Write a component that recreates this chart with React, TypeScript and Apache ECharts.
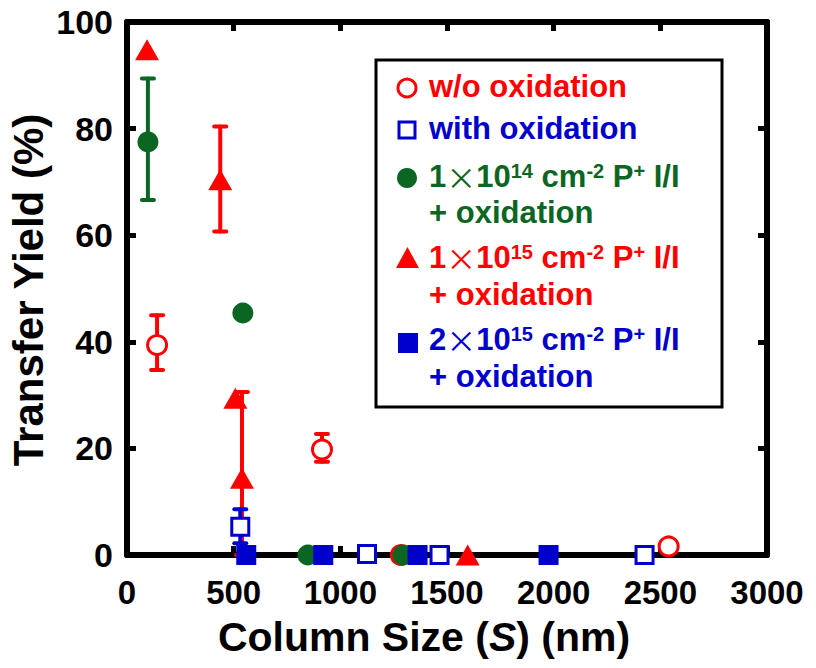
import React, { useEffect, useRef } from "react";
import * as echarts from "echarts";

const RED = "#ff0000";
const BLUE = "#0000cc";
const GREEN = "#0b6623";
const FONT = "'Liberation Sans', Arial, Helvetica, sans-serif";

// [column size (nm), transfer yield (%)]
const woOxidation: number[][] = [[141, 39.4], [914, 19.8], [1284, 0], [2539, 1.6]];
const woOxidationErr: number[][] = [[141, 34.7, 45.0], [914, 17.5, 22.7]];
const withOxidation: number[][] = [[531, 5.3], [1125, 0.2], [1465, 0], [2426, 0]];
const withOxidationErr: number[][] = [[531, 2.2, 8.6]];
const p1e14: number[][] = [[98, 77.5], [543, 45.4], [848, 0], [1294, 0]];
const p1e14Err: number[][] = [[98, 66.6, 89.4]];
const p1e15: number[][] = [[94, 94.8], [437, 70.4], [508, 29.4], [539, 14.4], [1597, 0]];
const p1e15Err: number[][] = [[437, 60.7, 80.4], [539, 0, 30.6]];
const p2e15: number[][] = [[559, 0], [920, 0], [1362, 0], [1976, 0]];

const xMin = 0, xMax = 3000, xStep = 500;
const yMin = 0, yMax = 100, yStep = 20;

function errSeries(data: number[][], color: string) {
  return {
    type: "custom",
    data,
    clip: false,
    silent: true,
    encode: { x: 0, y: [1, 2] },
    renderItem: (params: any, api: any) => {
      const x = api.value(0);
      const lo = api.value(1);
      const hi = api.value(2);
      const pLo = api.coord([x, lo]);
      const pHi = api.coord([x, hi]);
      const cw = 6;
      const style = { stroke: color, lineWidth: 4, lineCap: "round" };
      return {
        type: "group",
        children: [
          { type: "line", shape: { x1: pLo[0], y1: pLo[1], x2: pHi[0], y2: pHi[1] }, style },
          { type: "line", shape: { x1: pHi[0] - cw, y1: pHi[1], x2: pHi[0] + cw, y2: pHi[1] }, style },
          { type: "line", shape: { x1: pLo[0] - cw, y1: pLo[1], x2: pLo[0] + cw, y2: pLo[1] }, style },
        ],
      };
    },
  };
}

function scatter(name: string, data: number[][], symbol: string, size: any, itemStyle: any) {
  return {
    name,
    type: "scatter",
    data,
    symbol,
    symbolSize: size,
    clip: false,
    silent: true,
    itemStyle: { opacity: 1, ...itemStyle },
  };
}

function legendText(x: number, y: number, text: string, color: string) {
  return {
    type: "text",
    x,
    y,
    style: {
      text,
      fill: color,
      fontSize: 31,
      lineHeight: 30,
      fontWeight: "bold",
      fontFamily: FONT,
      align: "left",
      verticalAlign: "middle",
      rich: {
        x: { fontSize: 30, fontWeight: "normal", fontFamily: "'Noto Sans CJK JP', sans-serif", fill: color, lineHeight: 30 },
        sup: { fontSize: 20, fontWeight: "bold", fontFamily: FONT, fill: color, verticalAlign: "top", lineHeight: 30 },
      },
    },
  };
}

export default function App() {
  const ref = useRef<HTMLDivElement>(null);
  useEffect(() => {
    if (!ref.current) return;
    const chart = echarts.init(ref.current, null, { renderer: "svg" });
    const axisLine = { show: true, onZero: false, lineStyle: { color: "#000", width: 6 } };
    const axisTick = { show: true, inside: true, length: 9, lineStyle: { color: "#000", width: 5 } };
    const labelStyle = { color: "#000", fontSize: 33, fontWeight: "bold", fontFamily: FONT };
    chart.setOption({
      animation: false,
      backgroundColor: "#fff",
      grid: { left: 127, right: 49, top: 22, bottom: 113, containLabel: false },
      xAxis: [
        {
          type: "value", min: xMin, max: xMax, interval: xStep, position: "bottom",
          axisLine, axisTick, splitLine: { show: false },
          axisLabel: { ...labelStyle, lineHeight: 26, margin: 24, formatter: (v: number) => String(v) },
        },
        {
          type: "value", min: xMin, max: xMax, interval: xStep, position: "top",
          axisLine, axisTick, splitLine: { show: false }, axisLabel: { show: false },
        },
      ],
      yAxis: [
        {
          type: "value", min: yMin, max: yMax, interval: yStep, position: "left",
          axisLine, axisTick, splitLine: { show: false },
          axisLabel: { ...labelStyle, fontSize: 34, margin: 14, formatter: (v: number) => String(v) },
        },
        {
          type: "value", min: yMin, max: yMax, interval: yStep, position: "right",
          axisLine, axisTick, splitLine: { show: false }, axisLabel: { show: false },
        },
      ],
      series: [
        errSeries(woOxidationErr, RED),
        scatter("w/o oxidation", woOxidation, "circle", 19, { color: "#fff", borderColor: RED, borderWidth: 3 }),
        errSeries(p1e15Err, RED),
        scatter("1×10^15 cm^-2 P+ I/I + oxidation", p1e15, "triangle", [24, 21], { color: RED }),
        errSeries(p1e14Err, GREEN),
        scatter("1×10^14 cm^-2 P+ I/I + oxidation", p1e14, "circle", 21, { color: GREEN }),
        errSeries(withOxidationErr, BLUE),
        scatter("with oxidation", withOxidation, "rect", 17, { color: "#fff", borderColor: BLUE, borderWidth: 3 }),
        scatter("2×10^15 cm^-2 P+ I/I + oxidation", p2e15, "rect", 20, { color: BLUE }),
      ],
      graphic: [
        {
          type: "rect", shape: { x: 376, y: 60, width: 346, height: 347 },
          style: { fill: "#fff", stroke: "#000", lineWidth: 3 }, z: 10,
        },
        { type: "circle", shape: { cx: 407, cy: 88, r: 9 }, style: { fill: "#fff", stroke: RED, lineWidth: 3 }, z: 11 },
        { type: "rect", shape: { x: 399, y: 122, width: 16, height: 16 }, style: { fill: "#fff", stroke: BLUE, lineWidth: 3 }, z: 11 },
        { type: "circle", shape: { cx: 407, cy: 178, r: 10 }, style: { fill: GREEN }, z: 11 },
        { type: "polygon", shape: { points: [[396, 268], [419, 268], [407.5, 247]] }, style: { fill: RED }, z: 11 },
        { type: "rect", shape: { x: 398, y: 333, width: 20, height: 20 }, style: { fill: BLUE }, z: 11 },
        { ...legendText(429, 86, "w/o oxidation", RED), z: 11 },
        { ...legendText(429, 128, "with oxidation", BLUE), z: 11 },
        { ...legendText(429, 176, "1{x|×}10{sup|14} cm{sup|-2} P{sup|+} I/I", GREEN), z: 11 },
        { ...legendText(429, 212, "+ oxidation", GREEN), z: 11 },
        { ...legendText(429, 257, "1{x|×}10{sup|15} cm{sup|-2} P{sup|+} I/I", RED), z: 11 },
        { ...legendText(429, 294, "+ oxidation", RED), z: 11 },
        { ...legendText(429, 339, "2{x|×}10{sup|15} cm{sup|-2} P{sup|+} I/I", BLUE), z: 11 },
        { ...legendText(429, 376, "+ oxidation", BLUE), z: 11 },
        {
          type: "text", x: 424, y: 637,
          style: {
            text: "Column Size ({it|S}) (nm)", fill: "#000", fontSize: 41, lineHeight: 36, fontWeight: "bold", fontFamily: FONT,
            align: "center", verticalAlign: "middle",
            rich: { it: { fontSize: 41, lineHeight: 36, fontWeight: "bold", fontStyle: "italic", fontFamily: FONT, fill: "#000" } },
          },
        },
        {
          type: "text", x: 28, y: 290, rotation: Math.PI / 2,
          style: {
            text: "Transfer Yield (%)", fill: "#000", fontSize: 42, fontWeight: "bold", fontFamily: FONT,
            align: "center", verticalAlign: "middle",
          },
        },
      ],
    });
    return () => chart.dispose();
  }, []);
  return (
    <div
      ref={ref}
      style={{ position: "fixed", left: 0, top: 0, width: 816, height: 668, background: "#fff" }}
    />
  );
}
